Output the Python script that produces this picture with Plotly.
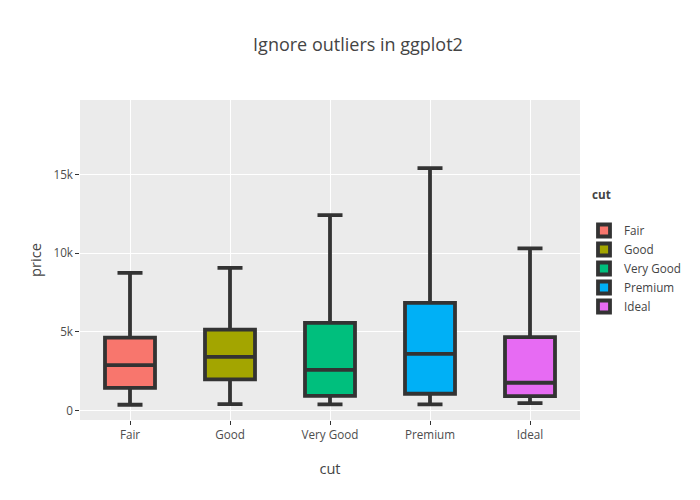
import plotly.graph_objects as go

categories = ["Fair", "Good", "Very Good", "Premium", "Ideal"]
q1 = [1450, 1980, 940, 1070, 920]
median = [2890, 3420, 2590, 3610, 1770]
q3 = [4640, 5150, 5580, 6850, 4670]
lower = [370, 410, 390, 390, 480]
upper = [8760, 9080, 12430, 15420, 10310]
colors = ["#F8766D", "#A3A500", "#00BF7D", "#00B0F6", "#E76BF3"]

fig = go.Figure()
for i, c in enumerate(categories):
    fig.add_trace(go.Box(
        x=[c], q1=[q1[i]], median=[median[i]], q3=[q3[i]],
        lowerfence=[lower[i]], upperfence=[upper[i]],
        name=c, fillcolor=colors[i],
        line=dict(color="rgba(51,51,51,1)", width=3.8),
        boxpoints=False, width=0.5, whiskerwidth=0.5,
        hoverinfo="y",
    ))

fig.update_layout(
    template="none",
    width=700, height=500,
    margin=dict(t=92, b=88, l=72, r=128, autoexpand=False),
    plot_bgcolor="rgba(235,235,235,1)",
    paper_bgcolor="white",
    font=dict(family="Open Sans", color="#444444", size=14.6),
    title=dict(text="Ignore outliers in ggplot2", x=0.5, xanchor="center",
               y=0.926, yanchor="middle",
               font=dict(size=18, color="#444444")),
    boxmode="overlay",
    showlegend=True,
    xaxis=dict(
        type="category", categoryorder="array", categoryarray=categories,
        range=[-0.5, 4.5], showgrid=True, gridcolor="white", gridwidth=1.3,
        ticks="outside", ticklen=3.65, tickcolor="rgba(51,51,51,1)",
        tickfont=dict(size=11.7, color="rgba(77,77,77,1)"),
        title=dict(text="cut", font=dict(size=14.6, color="#444444")), zeroline=False,
        showline=False, automargin=False,
    ),
    yaxis=dict(
        range=[-599, 19748], showgrid=True, gridcolor="white", gridwidth=1.3,
        tickvals=[0, 5000, 10000, 15000], ticktext=["0", "5k", "10k", "15k"],
        ticks="outside", ticklen=3.65, tickcolor="rgba(51,51,51,1)",
        tickfont=dict(size=11.7, color="rgba(77,77,77,1)"),
        title=dict(text="price", font=dict(size=14.6, color="#444444")), zeroline=False,
        showline=False, automargin=False,
    ),
    legend=dict(x=1.008, y=0.6375, xanchor="left", yanchor="top",
                bgcolor="rgba(0,0,0,0)", font=dict(size=11.7, color="#444444")),
    annotations=[dict(text="<b>cut</b>", x=1.02, y=0.706, xref="paper", yref="paper",
                      xanchor="left", yanchor="middle", showarrow=False,
                      font=dict(size=11.7, color="#444444"))],
)

fig.write_html("out.html")
